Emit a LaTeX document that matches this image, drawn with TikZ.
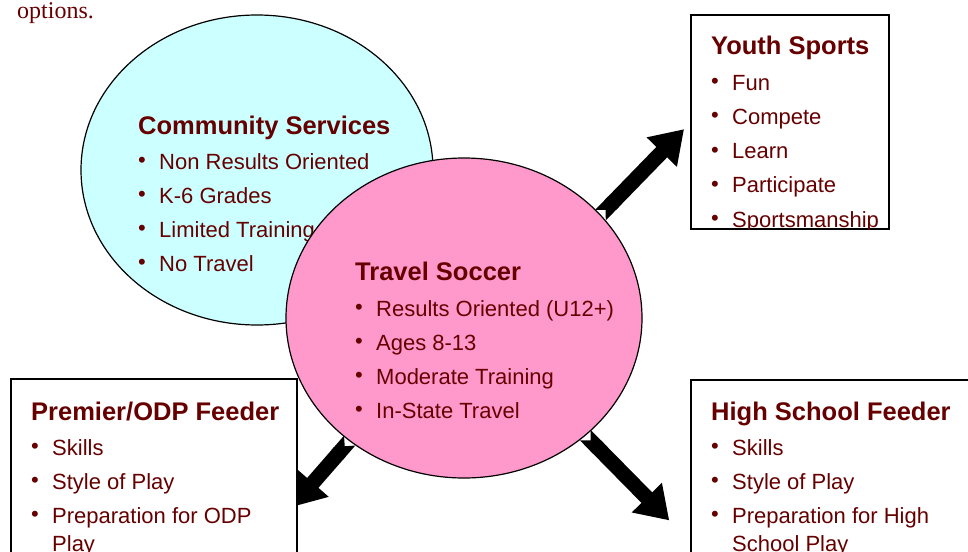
\documentclass[tikz,border=0pt]{standalone}
\usepackage{fontspec}
\setmainfont{Liberation Sans}
\newfontfamily\serifface{Liberation Serif}
\usetikzlibrary{shapes.geometric,arrows.meta}

\definecolor{textred}{RGB}{102,0,0}
\definecolor{cyanfill}{RGB}{204,255,255}
\definecolor{pinkfill}{RGB}{255,153,204}

\newcommand{\bul}{\makebox[21pt][l]{\raisebox{1.5pt}{\textbullet}}}

\pgfdeclarelayer{bg}
\pgfdeclarelayer{mid}
\pgfsetlayers{bg,mid,main}

\tikzset{
	hdr/.style={anchor=base west, inner sep=0pt, text=textred, font=\fontsize{25.5}{30}\selectfont\bfseries},
	itm/.style={anchor=base west, inner sep=0pt, text=textred, font=\fontsize{22}{26}\selectfont},
	box/.style={draw, fill=white, line width=1.2pt, anchor=north west, inner sep=0pt, outer sep=0pt},
	blob/.style={ellipse, draw, line width=1.2pt, inner sep=0pt, outer sep=0pt},
	fatarrow/.style={line width=15pt, {Triangle Cap[reversed]}-{Triangle[length=32pt,width=40pt]}}
}

\begin{document}
\begin{tikzpicture}[x=1pt,y=-1pt]
	\useasboundingbox (0,0) rectangle (968,551);

	\node[itm, font=\fontsize{24}{28}\selectfont\serifface] (opts) at (17,19) {options.};

	\begin{pgfonlayer}{bg}
		% community services
		\node[blob, fill=cyanfill, minimum width=352pt, minimum height=310pt] (community) at (257,170) {};
		\node[hdr] (community-h) at (138,134) {Community Services};
		\foreach \t [count=\i] in {Non Results Oriented, K-6 Grades, Limited Training, No Travel}{
			\node[itm] (community-\i) at (138,{134+1+34*\i}) {\bul\t};
		}
		% travel soccer
		\node[blob, fill=pinkfill, minimum width=356pt, minimum height=320pt] (travel) at (464,318) {};
		\node[hdr] (travel-h) at (355,280) {Travel Soccer};
		\foreach \t [count=\i] in {Results Oriented (U12+), Ages 8-13, Moderate Training, In-State Travel}{
			\node[itm] (travel-\i) at (355,{280+2+34*\i}) {\bul\t};
		}
	\end{pgfonlayer}

	% boxes
	\node[box, minimum width=198pt, minimum height=214pt] (youth) at (691,15) {};
	\node[box, minimum width=286pt, minimum height=244pt] (premier) at (11,379) {};
	\node[box, minimum width=300pt, minimum height=325pt] (highschool) at (691,380) {};

	\begin{scope}
		\clip (youth.north west) rectangle (youth.south east);
		\node[hdr] (youth-h) at (711,55) {Youth Sports};
		\foreach \t [count=\i] in {Fun, Compete, Learn, Participate, Sportsmanship}{
			\node[itm] (youth-\i) at (711,{55+0.7+34.3*\i}) {\bul\t};
		}
	\end{scope}

	\node[hdr] (premier-h) at (31,420) {Premier/ODP Feeder};
	\foreach \t [count=\i] in {Skills, Style of Play, Preparation for ODP}{
		\node[itm] (premier-\i) at (31,{420+1+34*\i}) {\bul\t};
	}
	\node[itm] (premier-3b) at (52,551) {Play};

	\node[hdr] (highschool-h) at (711,420) {High School Feeder};
	\foreach \t [count=\i] in {Skills, Style of Play, Preparation for High}{
		\node[itm] (highschool-\i) at (711,{420+1+34*\i}) {\bul\t};
	}
	\node[itm] (highschool-3b) at (732,551) {School Play};

	\begin{pgfonlayer}{mid}
		\draw[fatarrow, shorten >=10pt] (travel.37) -- (youth.west);
		\draw[fatarrow, shorten >=-8pt] (travel.227) -- (premier.east);
		\draw[fatarrow, shorten >=31pt] (travel.-44) -- (highschool.west);
	\end{pgfonlayer}
\end{tikzpicture}
\end{document}
